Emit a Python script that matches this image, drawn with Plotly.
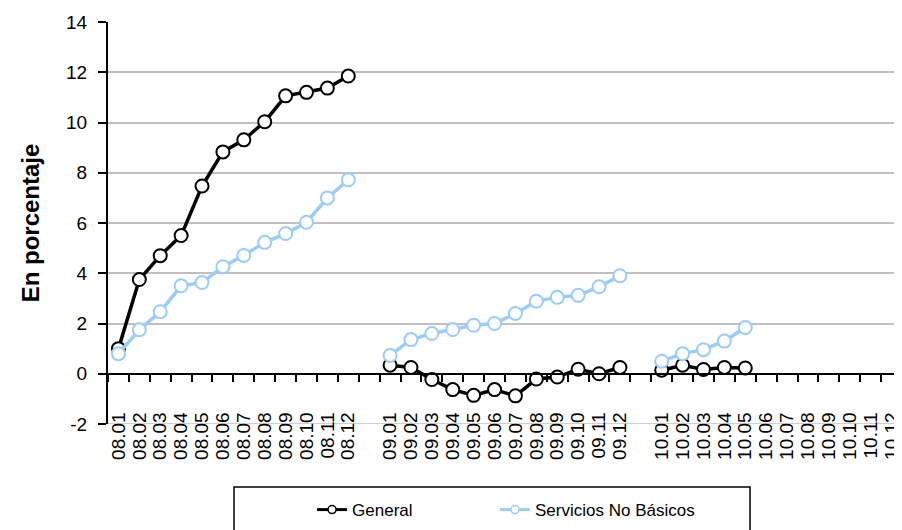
import plotly.graph_objects as go

# Categories (blank entries separate years)
categories = ["08.01", "08.02", "08.03", "08.04", "08.05", "08.06", "08.07", "08.08", "08.09", "08.10", "08.11", "08.12",
              " ",
              "09.01", "09.02", "09.03", "09.04", "09.05", "09.06", "09.07", "09.08", "09.09", "09.10", "09.11", "09.12",
              "  ",
              "10.01", "10.02", "10.03", "10.04", "10.05", "10.06", "10.07", "10.08", "10.09", "10.10", "10.11", "10.12"]

general = [1.0, 3.75, 4.7, 5.5, 7.47, 8.83, 9.31, 10.03, 11.06, 11.2, 11.37, 11.85,
           None,
           0.34, 0.25, -0.23, -0.63, -0.86, -0.63, -0.88, -0.21, -0.13, 0.18, 0.0, 0.25,
           None,
           0.14, 0.34, 0.17, 0.25, 0.23, None, None, None, None, None, None, None]

servicios = [0.8, 1.75, 2.47, 3.5, 3.63, 4.26, 4.71, 5.23, 5.58, 6.03, 7.0, 7.72,
             None,
             0.73, 1.36, 1.6, 1.76, 1.93, 2.0, 2.4, 2.89, 3.04, 3.12, 3.46, 3.9,
             None,
             0.5, 0.8, 0.96, 1.3, 1.84, None, None, None, None, None, None, None]

y_ticks = [-2, 0, 2, 4, 6, 8, 10, 12, 14]
y_tick_labels = ["-2", "0", "2", "4", "6", "8", "10", "12", "14"]

FONT = "Arial, 'Liberation Sans', sans-serif"
BLUE = "#99ccff"

fig = go.Figure()
fig.add_trace(go.Scatter(
    x=categories, y=general, name="General", mode="lines+markers", showlegend=False,
    line=dict(color="black", width=3.5),
    marker=dict(symbol="circle", size=13, color="white", line=dict(color="black", width=2)),
))
fig.add_trace(go.Scatter(
    x=categories, y=servicios, name="Servicios No Básicos", mode="lines+markers", showlegend=False,
    line=dict(color=BLUE, width=3.5),
    marker=dict(symbol="circle", size=13, color="white", line=dict(color=BLUE, width=2)),
))
# legend entries (smaller symbols, as in the reference legend)
fig.add_trace(go.Scatter(
    x=[None], y=[None], name="General", mode="lines+markers", legend="legend",
    line=dict(color="black", width=3),
    marker=dict(symbol="circle", size=8, color="white", line=dict(color="black", width=1.5)),
))
fig.add_trace(go.Scatter(
    x=[None], y=[None], name="Servicios No Básicos", mode="lines+markers", legend="legend2",
    line=dict(color=BLUE, width=3),
    marker=dict(symbol="circle", size=8, color="white", line=dict(color=BLUE, width=1.5)),
))

fig.update_layout(
    width=894, height=522,
    margin=dict(l=100, r=0, t=14, b=106),
    paper_bgcolor="white", plot_bgcolor="white",
    font=dict(family=FONT, color="black", size=17),
    legend=dict(orientation="h", x=0.257, xanchor="left", y=-0.214, yanchor="middle",
                font=dict(size=17, family=FONT), bgcolor="rgba(0,0,0,0)"),
    legend2=dict(orientation="h", x=0.4874, xanchor="left", y=-0.214, yanchor="middle",
                 font=dict(size=17, family=FONT), bgcolor="rgba(0,0,0,0)"),
    shapes=[
        dict(type="line", xref="paper", yref="y", x0=0, x1=1, y0=-2, y1=-2,
             line=dict(color="#c0c0c0", width=1.5), layer="below"),
        dict(type="rect", xref="paper", yref="paper",
             x0=0.1587, x1=0.8086, y0=-0.1567, y1=-0.32,
             line=dict(color="black", width=1.5), fillcolor="rgba(0,0,0,0)", layer="above"),
    ],
)

fig.update_xaxes(
    type="category", categoryorder="array", categoryarray=categories,
    range=[-0.5, len(categories) - 0.5],
    tickmode="array", tickvals=categories, ticktext=categories,
    anchor="free", position=2 / 16,
    showline=True, linecolor="black", linewidth=2,
    ticks="outside", ticklen=7, tickcolor="black", tickwidth=1.5,
    tickson="boundaries", tickangle=-90,
    tickfont=dict(size=19, family=FONT), ticklabelstandoff=30,
    showgrid=False, zeroline=False,
)
fig.update_yaxes(
    range=[-2, 14], tickvals=y_ticks, ticktext=y_tick_labels,
    showline=True, linecolor="black", linewidth=2,
    ticks="outside", ticklen=8, tickcolor="black", tickwidth=1.5,
    tickfont=dict(size=19, family=FONT), ticklabelstandoff=7,
    showgrid=True, gridcolor="#c0c0c0", gridwidth=1.5,
    zeroline=False,
    title=dict(text="<b>En porcentaje</b>", font=dict(size=24, family=FONT), standoff=20),
)

fig.write_html("out.html")
